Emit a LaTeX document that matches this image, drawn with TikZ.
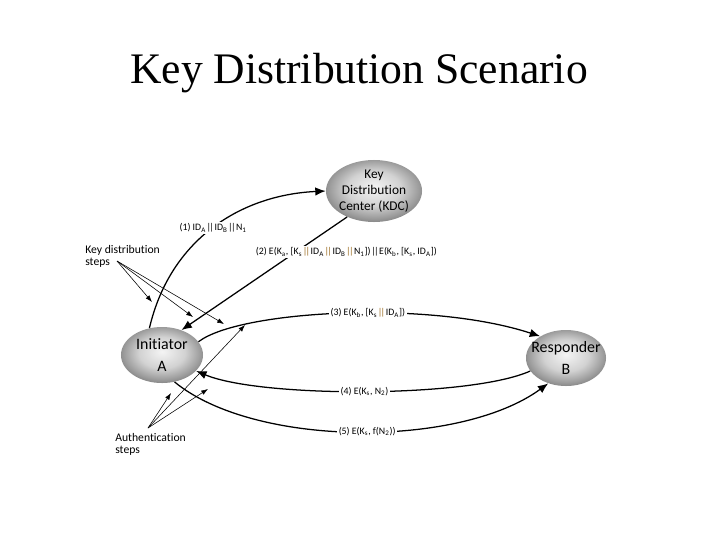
\documentclass[tikz,border=0pt]{standalone}
\usepackage{fontspec}
\setmainfont{Liberation Serif}
\newfontfamily\diagfont[Ligatures=NoCommon]{Carlito}
\usetikzlibrary{positioning, arrows.meta, shapes.geometric}
\definecolor{partylight}{HTML}{F4F4F4}
\definecolor{partymid}{HTML}{D2D2D2}
\definecolor{partyedge}{HTML}{9E9E9E}
\definecolor{partydark}{HTML}{858585}
\definecolor{barcol}{HTML}{9A6A1E}
\pgfdeclareradialshading{partyshade}{\pgfpoint{0bp}{3bp}}{color(0bp)=(partylight); color(14bp)=(partymid); color(23bp)=(partyedge); color(27bp)=(partydark); color(50bp)=(partydark)}
\newcommand{\sbs}[1]{\textsubscript{#1}}
\newcommand{\catbar}{\kern0.4pt|\kern-1.2pt|\kern0.4pt}
\newcommand{\catcol}{\kern0.4pt\textcolor{barcol}{|\kern-1.2pt|}\kern0.4pt}

\begin{document}
\begin{tikzpicture}[
  x=0.025cm, y=-0.025cm,
  title/.style  = {font=\fontsize{31}{36}\selectfont, anchor=base},
  party/.style  = {ellipse, shade, shading=partyshade, align=center, inner xsep=-6pt, inner ysep=-4pt,
                   minimum width=2.05cm, minimum height=1.4cm,
                   font=\diagfont\fontsize{11.3}{16}\selectfont},
  kdcparty/.style = {party, minimum width=2.4cm, minimum height=1.55cm,
                     font=\diagfont\fontsize{9.5}{11.2}\selectfont},
  msg/.style    = {fill=white, inner sep=1pt, font=\diagfont\fontsize{7}{8}\selectfont},
  note/.style   = {align=left, inner sep=0pt, font=\diagfont\fontsize{8.3}{8.5}\selectfont},
  flow/.style   = {-{Latex[length=2.6mm, width=2.1mm]}, line width=0.9pt},
  pointer/.style = {-{Latex[length=1.7mm, width=1.2mm]}, line width=0.4pt},
]
\useasboundingbox (0,0) rectangle (720,540);

\node[title] (title) at (359,83) {Key Distribution Scenario};

%% parties
\node[kdcparty] (kdc) at (374,191) {Key\\Distribution\\Center (KDC)};
\node[party] (ini) at (162,355) {Initiator\\A};
\node[party, minimum width=2cm] (res) at (566,358) {Responder\\B};

%% key distribution
\draw[flow] (ini.115) .. controls (170,240) and (240,195) ..
  node[msg, pos=0.5] {(1) ID\sbs{A}\catbar ID\sbs{B}\catbar N\sbs{1}} (kdc.west);
\draw[flow] (kdc.224) --
  node[msg, pos=0.31, anchor=west, xshift=-1.05cm]
  {(2) E(K\sbs{a}, [K\sbs{s}\catcol ID\sbs{A}\catcol ID\sbs{B}\catcol N\sbs{1}])\catbar E(K\sbs{b}, [K\sbs{s}, ID\sbs{A}])} (ini.52);
\draw[flow] (ini.20) .. controls (240,310) and (430,300) ..
  node[msg, pos=0.56] {(3) E(K\sbs{b}, [K\sbs{s}\catcol ID\sbs{A}])} (res.140);

%% authentication
\draw[flow] (res.200) .. controls (470,398) and (260,398) ..
  node[msg, pos=0.5] {(4) E(K\sbs{s}, N\sbs{2})} (ini.335);
\draw[flow] (ini.295) .. controls (255,448) and (460,448) ..
  node[msg, pos=0.52] {(5) E(K\sbs{s}, f(N\sbs{2}))} (res.235);

%% notes
\node[note, anchor=north west] (kdnote) at (85,245) {Key distribution\\steps};
\node[note, anchor=north west] (aunote) at (115,433) {Authentication\\steps};
\coordinate (kdsrc) at (117,261);
\coordinate (ausrc) at (148,428);
\coordinate (kd1) at (152,302);
\coordinate (kd2) at (193,317);
\coordinate (kd3) at (224,324);
\coordinate (au1) at (171,393);
\coordinate (au2) at (208,389);
\coordinate (au3) at (245,325);
\foreach \t in {kd1,kd2,kd3} \draw[pointer] (kdsrc) -- (\t);
\foreach \t in {au1,au2,au3} \draw[pointer] (ausrc) -- (\t);
\end{tikzpicture}
\end{document}
